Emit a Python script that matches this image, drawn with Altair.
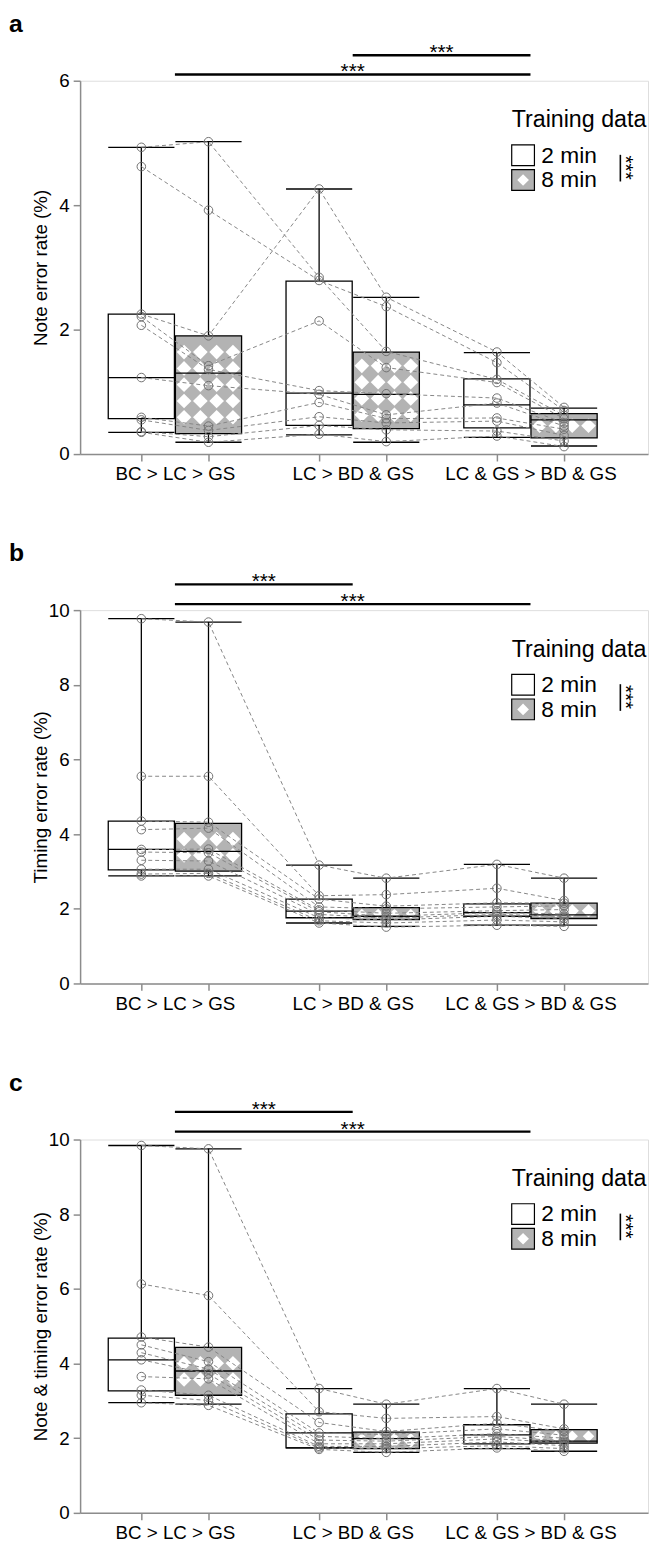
import json
import altair as alt
import numpy as np
import pandas as pd

# ---------------- categories / labels ----------------
GROUPS = ["BC > LC > GS", "LC > BD & GS", "LC & GS > BD & GS"]
TRAINING = ["2 min", "8 min"]
PANEL_LETTERS = ["a", "b", "c"]
Y_TITLES = ["Note error rate (%)", "Timing error rate (%)", "Note & timing error rate (%)"]
Y_MAX = [6, 10, 10]
Y_TICKS = [[0, 2, 4, 6], [0, 2, 4, 6, 8, 10], [0, 2, 4, 6, 8, 10]]

# ---------------- per-participant values (same participant order in each list) ----------------
# panel a: note error rate
a_bc_2 = [4.93, 4.62, 2.25, 2.21, 2.07, 1.23, 0.59, 0.55, 0.36, 0.35]
a_bc_8 = [5.02, 3.92, 1.90, 1.42, 1.36, 1.10, 0.45, 0.38, 0.28, 0.19]
a_lc_2 = [2.84, 2.79, 4.26, 2.14, 1.02, 0.96, 0.83, 0.60, 0.46, 0.32]
a_lc_8 = [1.65, 2.37, 2.52, 1.39, 0.97, 0.63, 0.57, 0.50, 0.39, 0.20]
a_lcgs_2 = [1.20, 1.47, 1.64, 1.15, 0.90, 0.82, 0.58, 0.53, 0.37, 0.29]
a_lcgs_8 = [0.62, 0.70, 0.75, 0.57, 0.50, 0.45, 0.40, 0.30, 0.21, 0.12]
# panel b: timing error rate
b_bc_2 = [9.77, 5.55, 4.35, 4.12, 3.59, 3.52, 3.30, 3.06, 2.93, 2.88]
b_bc_8 = [9.68, 5.55, 4.32, 4.16, 3.60, 3.50, 3.28, 3.06, 2.95, 2.88]
b_lc_2 = [3.17, 2.35, 2.26, 2.05, 1.97, 1.92, 1.85, 1.76, 1.68, 1.62]
b_lc_8 = [2.82, 2.38, 2.07, 2.00, 1.88, 1.80, 1.75, 1.70, 1.62, 1.51]
b_lcgs_2 = [3.19, 2.55, 2.16, 2.05, 1.95, 1.90, 1.85, 1.80, 1.70, 1.56]
b_lcgs_8 = [2.82, 2.22, 2.15, 2.08, 1.98, 1.86, 1.80, 1.74, 1.65, 1.53]
# panel c: note & timing error rate
c_bc_2 = [9.84, 6.13, 4.71, 4.50, 4.29, 4.10, 3.65, 3.29, 3.15, 2.95]
c_bc_8 = [9.75, 5.82, 4.44, 4.05, 3.85, 3.72, 3.59, 3.15, 3.01, 2.88]
c_lc_2 = [3.33, 2.71, 2.42, 2.14, 2.05, 1.95, 1.85, 1.78, 1.74, 1.70]
c_lc_8 = [2.91, 2.53, 2.18, 2.10, 1.99, 1.92, 1.85, 1.78, 1.72, 1.62]
c_lcgs_2 = [3.33, 2.58, 2.40, 2.25, 2.12, 2.05, 1.98, 1.90, 1.80, 1.74]
c_lcgs_8 = [2.91, 2.25, 2.18, 2.08, 2.00, 1.92, 1.88, 1.80, 1.72, 1.65]

# ---------------- box summaries (order: BC 2, BC 8, LC 2, LC 8, LCGS 2, LCGS 8) ----------------
a_lo = [0.35, 0.19, 0.31, 0.19, 0.27, 0.13]
a_q1 = [0.57, 0.33, 0.46, 0.41, 0.42, 0.26]
a_med = [1.23, 1.30, 0.98, 0.96, 0.79, 0.55]
a_q3 = [2.25, 1.90, 2.78, 1.64, 1.21, 0.65]
a_hi = [4.93, 5.02, 4.26, 2.52, 1.63, 0.74]

b_lo = [2.88, 2.88, 1.62, 1.53, 1.56, 1.56]
b_q1 = [3.04, 3.01, 1.76, 1.71, 1.80, 1.74]
b_med = [3.59, 3.54, 1.94, 1.80, 1.90, 1.84]
b_q3 = [4.35, 4.29, 2.26, 2.03, 2.13, 2.15]
b_hi = [9.77, 9.68, 3.17, 2.82, 3.19, 2.82]

c_lo = [2.95, 2.91, 1.74, 1.62, 1.72, 1.65]
c_q1 = [3.27, 3.15, 1.74, 1.72, 1.85, 1.87]
c_med = [4.10, 3.80, 2.14, 1.99, 2.09, 1.92]
c_q3 = [4.68, 4.43, 2.65, 2.16, 2.36, 2.23]
c_hi = [9.84, 9.75, 3.33, 2.91, 3.33, 2.91]

# ---------------- significance brackets ----------------
SIG_PANEL = ["a", "a", "b", "b", "c", "c"]
SIG_FROM = [0, 1, 0, 0, 0, 0]
SIG_TO = [2, 2, 1, 2, 1, 2]
SIG_LEVEL = [6.10, 6.41, 10.69, 10.16, 10.74, 10.21]
SIG_LABEL = ["***", "***", "***", "***", "***", "***"]

# ---------------- layout / style constants ----------------
W, H = 575, 378
PX_PER_GROUP = 180.0
X_DOMAIN = [-96 / PX_PER_GROUP, -96 / PX_PER_GROUP + W / PX_PER_GROUP]
OFF = 34 / PX_PER_GROUP
HALF = 33.5 / PX_PER_GROUP
PATTERN = 16.5  # px period of the checker pattern
FONT = "Liberation Sans"
AXIS_GRAY = "#8c8c8c"
BOX_GRAY = "#b3b3b3"

point_lists = {
    "a": [a_bc_2, a_bc_8, a_lc_2, a_lc_8, a_lcgs_2, a_lcgs_8],
    "b": [b_bc_2, b_bc_8, b_lc_2, b_lc_8, b_lcgs_2, b_lcgs_8],
    "c": [c_bc_2, c_bc_8, c_lc_2, c_lc_8, c_lcgs_2, c_lcgs_8],
}
box_lists = {
    "a": (a_lo, a_q1, a_med, a_q3, a_hi),
    "b": (b_lo, b_q1, b_med, b_q3, b_hi),
    "c": (c_lo, c_q1, c_med, c_q3, c_hi),
}

rows = []
for p, lists in point_lists.items():
    for ci, vals in enumerate(lists):
        g, t = divmod(ci, 2)
        for i, v in enumerate(vals):
            rows.append(dict(panel=p, gi=g, ti=t, training=TRAINING[t], participant=i, value=v))
pts = pd.DataFrame(rows)
pts["pos"] = pts["gi"] + np.where(pts["ti"] == 0, -OFF, OFF)

brows = []
for p, (lo, q1, med, q3, hi) in box_lists.items():
    for ci in range(6):
        g, t = divmod(ci, 2)
        brows.append(dict(panel=p, gi=g, ti=t, training=TRAINING[t],
                          lo=lo[ci], q1=q1[ci], med=med[ci], q3=q3[ci], hi=hi[ci]))
boxes = pd.DataFrame(brows)
boxes["pos"] = boxes["gi"] + np.where(boxes["ti"] == 0, -OFF, OFF)
boxes["left"] = boxes["pos"] - HALF
boxes["right"] = boxes["pos"] + HALF

# checker pattern (white diamonds) inside the 8-min boxes
drows = []
for pi, p in enumerate(PANEL_LETTERS):
    ky = H / Y_MAX[pi]
    for _, b in boxes[(boxes.panel == p) & (boxes.ti == 1)].iterrows():
        wpx = 2 * HALF * PX_PER_GROUP
        ncol = int(wpx // PATTERN)
        mx = (wpx - ncol * PATTERN) / 2
        hpx = (b.q3 - b.q1) * ky
        if hpx >= PATTERN:
            nrow = int(hpx // PATTERN)
            my = (hpx - nrow * PATTERN) / 2
            size = (0.9 * PATTERN) ** 2
            ys = [b.q3 - (my + PATTERN / 2 + k * PATTERN) / ky for k in range(nrow)]
        else:
            size = max(hpx - 2, 2) ** 2
            ys = [(b.q1 + b.q3) / 2]
        for yv in ys:
            for j in range(ncol):
                xv = b.left + (mx + PATTERN / 2 + j * PATTERN) / PX_PER_GROUP
                drows.append(dict(panel=p, dx=xv, dy=yv, ds=size))
diam = pd.DataFrame(drows)

sig = pd.DataFrame(dict(panel=SIG_PANEL, x1=SIG_FROM, x2=SIG_TO, level=SIG_LEVEL, label=SIG_LABEL))
sig["xm"] = (sig["x1"] + sig["x2"]) / 2

one = pd.DataFrame({"k": [0]})

label_test = "abs(datum.value - round(datum.value)) < 0.001"
x_values = sorted([g + d for g in range(3) for d in (-OFF, 0.0, OFF)])
x_scale = alt.Scale(domain=X_DOMAIN, nice=False, zero=False)
x_axis = alt.Axis(
    values=x_values, title=None, grid=False,
    labelExpr=f"{label_test} ? {json.dumps(GROUPS)}[round(datum.value)] : ''",
    tickOpacity={"condition": {"test": label_test, "value": 0}, "value": 1},
    labelOverlap=False, labelFlush=False, labelBound=False,
)


def X(field):
    return alt.X(f"{field}:Q", scale=x_scale, axis=x_axis)


def make_panel(pi):
    p = PANEL_LETTERS[pi]
    y_scale = alt.Scale(domain=[0, Y_MAX[pi]], nice=False, zero=True)
    y_axis = alt.Axis(values=Y_TICKS[pi], title=Y_TITLES[pi], grid=False,
                      titleX=-40, titleY=H / 2, titleBaseline="middle")

    def Y(field):
        return alt.Y(f"{field}:Q", scale=y_scale, axis=y_axis)

    bx = alt.Chart(boxes[boxes.panel == p])
    pt = alt.Chart(pts[pts.panel == p])
    dm = alt.Chart(diam[diam.panel == p])
    sg = alt.Chart(sig[sig.panel == p])
    base1 = alt.Chart(one)

    whisker = bx.mark_rule(color="black", strokeWidth=1.3).encode(x=X("pos"), y=Y("lo"), y2="hi:Q")
    box = bx.mark_rect(strokeWidth=0).encode(
        x=X("left"), x2="right:Q", y=Y("q1"), y2="q3:Q",
        fill=alt.Fill("training:N", scale=alt.Scale(domain=TRAINING, range=["white", BOX_GRAY]), legend=None),
    )
    diamonds = dm.mark_point(shape="diamond", filled=True, color="white", opacity=1, strokeWidth=0).encode(
        x=X("dx"), y=Y("dy"), size=alt.Size("ds:Q", scale=None)
    )
    outline = bx.mark_rect(fillOpacity=0, stroke="black", strokeWidth=1.3).encode(
        x=X("left"), x2="right:Q", y=Y("q1"), y2="q3:Q"
    )
    median = bx.mark_rule(color="black", strokeWidth=1.3).encode(x=X("left"), x2="right:Q", y=Y("med"))
    cap_lo = bx.mark_rule(color="black", strokeWidth=1.3).encode(x=X("left"), x2="right:Q", y=Y("lo"))
    cap_hi = bx.mark_rule(color="black", strokeWidth=1.3).encode(x=X("left"), x2="right:Q", y=Y("hi"))
    lines = pt.mark_line(color="#858585", strokeDash=[4, 3], strokeWidth=1).encode(
        x=X("pos"), y=Y("value"), detail="participant:N"
    )
    points = pt.mark_point(shape="circle", filled=False, color="#707070", size=75, strokeWidth=1, opacity=1).encode(
        x=X("pos"), y=Y("value")
    )
    sig_rule = sg.mark_rule(color="black", strokeWidth=2.4).encode(x=X("x1"), x2="x2:Q", y=Y("level"))
    sig_text = sg.mark_text(fontSize=21, baseline="alphabetic", dy=4, font=FONT).encode(
        x=X("xm"), y=Y("level"), text="label:N"
    )

    # manual legend
    leg_title = base1.mark_text(text="Training data", fontSize=23.5, align="left", baseline="middle", font=FONT).encode(
        x=alt.value(437), y=alt.value(40))
    sw1 = base1.mark_rect(fill="white", stroke="black", strokeWidth=1.2).encode(
        x=alt.value(437), x2=alt.value(460), y=alt.value(65), y2=alt.value(86))
    sw2 = base1.mark_rect(fill=BOX_GRAY, stroke="black", strokeWidth=1.2).encode(
        x=alt.value(437), x2=alt.value(460), y=alt.value(90), y2=alt.value(111))
    sw2d = base1.mark_point(shape="diamond", filled=True, color="white", opacity=1, size=140, strokeWidth=0).encode(
        x=alt.value(448.5), y=alt.value(100.5))
    lab1 = base1.mark_text(text="2 min", fontSize=23, align="left", baseline="middle", font=FONT).encode(
        x=alt.value(467), y=alt.value(76))
    lab2 = base1.mark_text(text="8 min", fontSize=23, align="left", baseline="middle", font=FONT).encode(
        x=alt.value(467), y=alt.value(101))
    vbar = base1.mark_rule(color="black", strokeWidth=1.6).encode(
        x=alt.value(547), y=alt.value(75), y2=alt.value(102))
    vstars = base1.mark_text(text="***", fontSize=21, angle=90, align="center", baseline="middle", font=FONT,
                             color="black").encode(x=alt.value(552), y=alt.value(88))
    letter = base1.mark_text(text=p, fontSize=25, fontWeight="bold", align="left", baseline="top", font=FONT).encode(
        x=alt.value(-72), y=alt.value(-69.5))

    return alt.layer(
        whisker, box, diamonds, outline, median, cap_lo, cap_hi, lines, points,
        sig_rule, sig_text, leg_title, sw1, sw2, sw2d, lab1, lab2, vbar, vstars, letter,
    ).properties(width=W, height=H)


chart = alt.vconcat(*[make_panel(i) for i in range(3)], spacing=57).properties(
    padding={"left": 0, "right": 0, "top": -6, "bottom": 0}
).configure_view(stroke=None).configure(font=FONT).configure_axis(
    domainColor=AXIS_GRAY, tickColor=AXIS_GRAY, domainWidth=1.5, tickWidth=1.5, tickSize=7,
    labelColor="black", labelFontSize=19, titleFontSize=19, titleFontWeight="normal",
    titleColor="black", labelPadding=4, labelFont=FONT, titleFont=FONT,
)

chart.save("out.html", embed_options={"renderer": "svg", "actions": False})
